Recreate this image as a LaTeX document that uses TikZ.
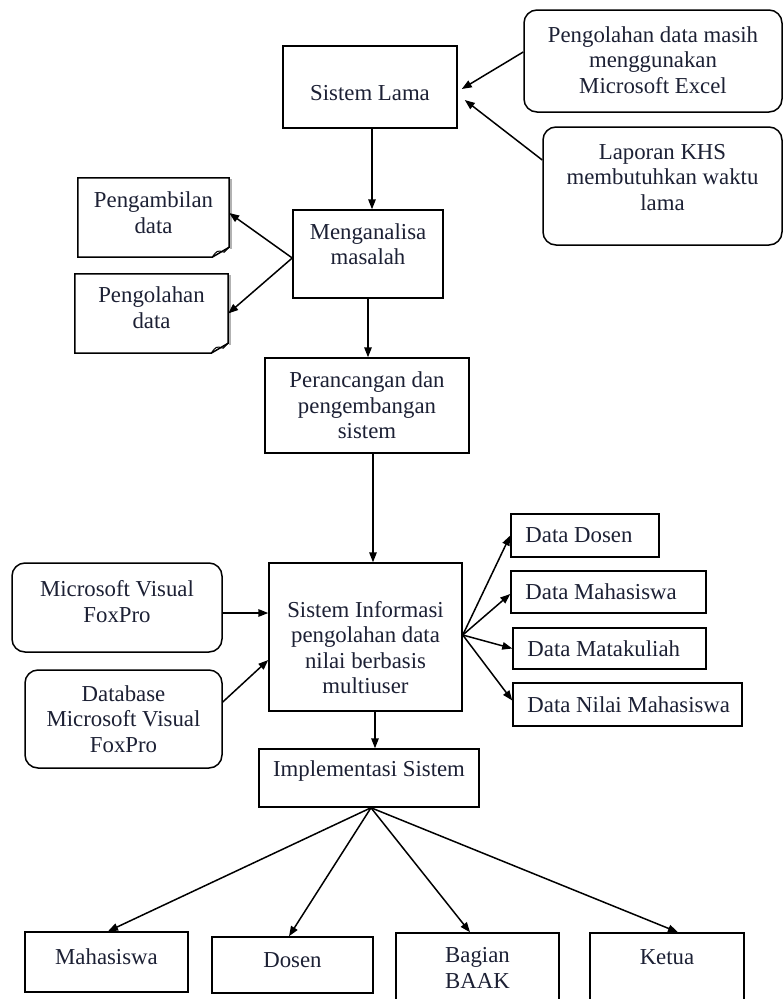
\documentclass[tikz,border=0pt]{standalone}
\usepackage{fontspec}
\setmainfont{Liberation Serif}
\usetikzlibrary{arrows.meta,calc}
\definecolor{txt}{RGB}{28,32,52}
\begin{document}
\begin{tikzpicture}[x=1pt,y=-1pt,
  every node/.style={font=\fontsize{22.8}{25.5}\selectfont, text=txt},
  box/.style={draw, line width=1.5pt, rectangle, inner sep=0pt},
  rbox/.style={box, rounded corners=13pt},
  docnode/.style={rectangle, inner sep=0pt},
  lbl/.style={align=center, draw=none, inner sep=0pt},
  dlbl/.style={draw=none, inner sep=0pt, anchor=west, xshift=15pt},
  arr/.style={-{Triangle[length=10pt,width=7.5pt]}, line width=1.5pt}]
\clip (0,0) rectangle (784,999);
\fill[white] (0,0) rectangle (784,999);

% top
\node[box, minimum width=174pt, minimum height=82pt,
  label={[lbl,yshift=-6pt]center:Sistem Lama}] (sl) at (370,87) {};
\node[rbox, minimum width=258pt, minimum height=102pt,
  label={[lbl,yshift=1pt]center:Pengolahan data masih\\menggunakan\\Microsoft Excel}] (pd) at (653,61) {};
\node[rbox, minimum width=239pt, minimum height=118pt,
  label={[lbl,yshift=8.5pt]center:Laporan KHS\\membutuhkan waktu\\lama}] (lk) at (662.5,186) {};
\node[box, minimum width=150pt, minimum height=88pt,
  label={[lbl,yshift=10pt]center:Menganalisa\\masalah}] (ma) at (368,254) {};

% document shapes
\node[docnode, minimum width=151pt, minimum height=79pt,
  label={[lbl,yshift=5pt]center:Pengambilan\\data}] (pa) at (153.5,217.5) {};
\node[docnode, minimum width=153pt, minimum height=79pt,
  label={[lbl,yshift=6pt]center:Pengolahan\\data}] (po) at (151.5,313.5) {};
\foreach \d in {pa,po}{
  \draw[gray!60, line width=1.6pt] ([xshift=1.5pt,yshift=-1.5pt]\d.north east) -- ([xshift=1.5pt,yshift=8.5pt]\d.south east);
  \draw[line width=1.5pt] (\d.north west) -- (\d.north east) -- ([yshift=10pt]\d.south east)
     -- ([xshift=-17pt]\d.south east) -- (\d.south west) -- cycle;
  \draw[line width=1pt] ([xshift=-17pt]\d.south east) .. controls ([xshift=-12pt,yshift=7pt]\d.south east) .. ([xshift=-5pt,yshift=5pt]\d.south east) -- ([yshift=10pt]\d.south east);
}

\node[box, minimum width=204pt, minimum height=95pt,
  label={[lbl]center:Perancangan dan\\pengembangan\\sistem}] (pp) at (367,405.5) {};

% middle
\node[box, minimum width=193pt, minimum height=148pt,
  label={[lbl,yshift=-10.5pt]center:Sistem Informasi\\pengolahan data\\nilai berbasis\\multiuser}] (si) at (365.5,637) {};
\node[rbox, minimum width=210pt, minimum height=89pt,
  label={[lbl,yshift=6pt]center:Microsoft Visual\\FoxPro}] (mv) at (117,607.5) {};
\node[rbox, minimum width=197pt, minimum height=98pt,
  label={[lbl]center:Database\\Microsoft Visual\\FoxPro}] (db) at (123.5,719) {};

\node[box, minimum width=148pt, minimum height=43pt,
  label={[dlbl]west:Data Dosen}] (dd) at (585,535.5) {};
\node[box, minimum width=195pt, minimum height=42pt,
  label={[dlbl]west:Data Mahasiswa}] (dm) at (608.5,592) {};
\node[box, minimum width=193pt, minimum height=41pt,
  label={[dlbl]west:Data Matakuliah}] (dk) at (609.5,648.5) {};
\node[box, minimum width=229pt, minimum height=43pt,
  label={[dlbl]west:Data Nilai Mahasiswa}] (dn) at (627.5,704.5) {};

\node[box, minimum width=220pt, minimum height=58pt,
  label={[lbl,yshift=7pt]center:Implementasi Sistem}] (im) at (369,778) {};

% bottom
\node[box, minimum width=163pt, minimum height=60pt,
  label={[lbl,yshift=5pt]center:Mahasiswa}] (mh) at (106.5,962) {};
\node[box, minimum width=161pt, minimum height=56pt,
  label={[lbl,yshift=5pt]center:Dosen}] (ds) at (292.5,965) {};
\node[box, minimum width=163pt, minimum height=70pt,
  label={[lbl]center:Bagian\\BAAK}] (bb) at (477.5,968) {};
\node[box, minimum width=154pt, minimum height=70pt,
  label={[lbl,yshift=11pt]center:Ketua}] (kt) at (667,968) {};

% connectors
\draw[arr] ([yshift=9pt]pd.west) -- ([xshift=4pt,yshift=-2pt]sl.east);
\draw[arr] ([yshift=26pt]lk.west) -- ([xshift=7pt,yshift=-13pt]sl.east);
\draw[arr] ([xshift=2pt]sl.south) -- ([xshift=2pt]sl.south |- ma.north);
\coordinate (mal) at ([yshift=-4pt]ma.west);
\draw[arr] (mal) -- ([yshift=4.5pt]pa.east);
\draw[arr] (mal) -- (po.east);
\draw[arr] (ma.south) -- (ma.south |- pp.north);
\draw[arr] ([xshift=6pt]pp.south) -- ([xshift=6pt]pp.south |- si.north);
\draw[arr] ([yshift=-5.5pt]mv.east) -- ([yshift=-5.5pt]mv.east -| si.west);
\draw[arr] ([yshift=17pt]db.east) -- ([yshift=-23pt]si.west);
\coordinate (sir) at ([yshift=2pt]si.east);
\draw[arr] (sir) -- (dd.west);
\draw[arr] (sir) -- ([yshift=-2pt]dm.west);
\draw[arr] (sir) -- (dk.west);
\draw[arr] (sir) -- ([yshift=4pt]dn.west);
\draw[arr] ([xshift=9.5pt]si.south) -- ([xshift=9.5pt]si.south |- im.north);
\coordinate (ims) at ([xshift=2pt]im.south);
\draw[arr] (ims) -- ([xshift=1.5pt]mh.north);
\draw[arr] (ims) -- ([xshift=-3.5pt]ds.north);
\draw[arr] (ims) -- ([xshift=-7.5pt]bb.north);
\draw[arr] (ims) -- ([xshift=11pt]kt.north);
\end{tikzpicture}
\end{document}
